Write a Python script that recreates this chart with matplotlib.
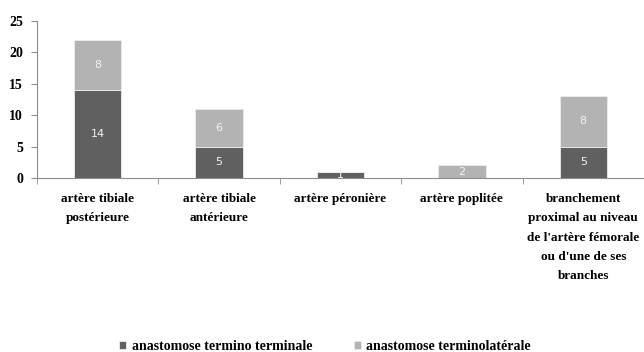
import numpy as np
import matplotlib.pyplot as plt
from matplotlib.ticker import FixedLocator

categories = [
    "artère tibiale\npostérieure",
    "artère tibiale\nantérieure",
    "artère péronière",
    "artère poplitée",
    "branchement\nproximal au niveau\nde l'artère fémorale\nou d'une de ses\nbranches",
]
termino_terminale = [14, 5, 1, 0, 5]
termino_laterale = [8, 6, 0, 2, 8]
series_names = ["anastomose termino terminale", "anastomose terminolatérale"]

dark = "#606060"
light = "#b3b3b3"
axis_gray = "#8c8c8c"
serif = "Liberation Serif"

fig = plt.figure(figsize=(6.44, 3.52), dpi=100)
ax = fig.add_axes([37 / 644, 1 - 178 / 352, 1 - 37 / 644, (178 - 21) / 352])

x = np.arange(len(categories))
w = 0.39
b1 = ax.bar(x, termino_terminale, w, color=dark, edgecolor="#ececec", linewidth=0.6,
            label=series_names[0])
b2 = ax.bar(x, termino_laterale, w, bottom=termino_terminale, color=light,
            edgecolor="#ececec", linewidth=0.6, label=series_names[1])

# value labels in the middle of each non-empty segment
for bars, vals, base in [(b1, termino_terminale, [0] * 5), (b2, termino_laterale, termino_terminale)]:
    for rect, v, b0 in zip(bars, vals, base):
        if v == 0:
            continue
        ax.text(rect.get_x() + rect.get_width() / 2, b0 + v / 2, str(v),
                ha="center", va="center", fontsize=8, color="#f2f2f2",
                family="DejaVu Sans")

ax.set_xlim(-0.5, len(categories) - 0.5)
ax.set_ylim(0, 25)
ax.set_yticks(np.arange(0, 26, 5))

for s in ["top", "right"]:
    ax.spines[s].set_visible(False)
ax.spines["left"].set_color(axis_gray)
ax.spines["bottom"].set_color(axis_gray)

ax.set_xticks(x)
ax.set_xticklabels(categories, fontsize=9.5, fontweight="bold", family=serif,
                   linespacing=1.8, va="top")
ax.xaxis.set_minor_locator(FixedLocator(np.arange(-0.5, len(categories), 1.0)))
ax.tick_params(axis="x", which="major", length=0, pad=11)
ax.tick_params(axis="x", which="minor", length=4, color=axis_gray)
ax.tick_params(axis="y", length=4, color=axis_gray, pad=6)
for lab in ax.get_yticklabels():
    lab.set_fontsize(10)
    lab.set_fontweight("bold")
    lab.set_family(serif)

fig.legend(handles=[b1, b2], loc="center", bbox_to_anchor=(0.505, 1 - 346 / 352),
           ncol=2, frameon=False, handlelength=0.5, handleheight=0.5,
           handletextpad=0.4, columnspacing=3.0, borderpad=0,
           prop={"family": serif, "weight": "bold", "size": 10})

fig.savefig("out.png", dpi=100)
